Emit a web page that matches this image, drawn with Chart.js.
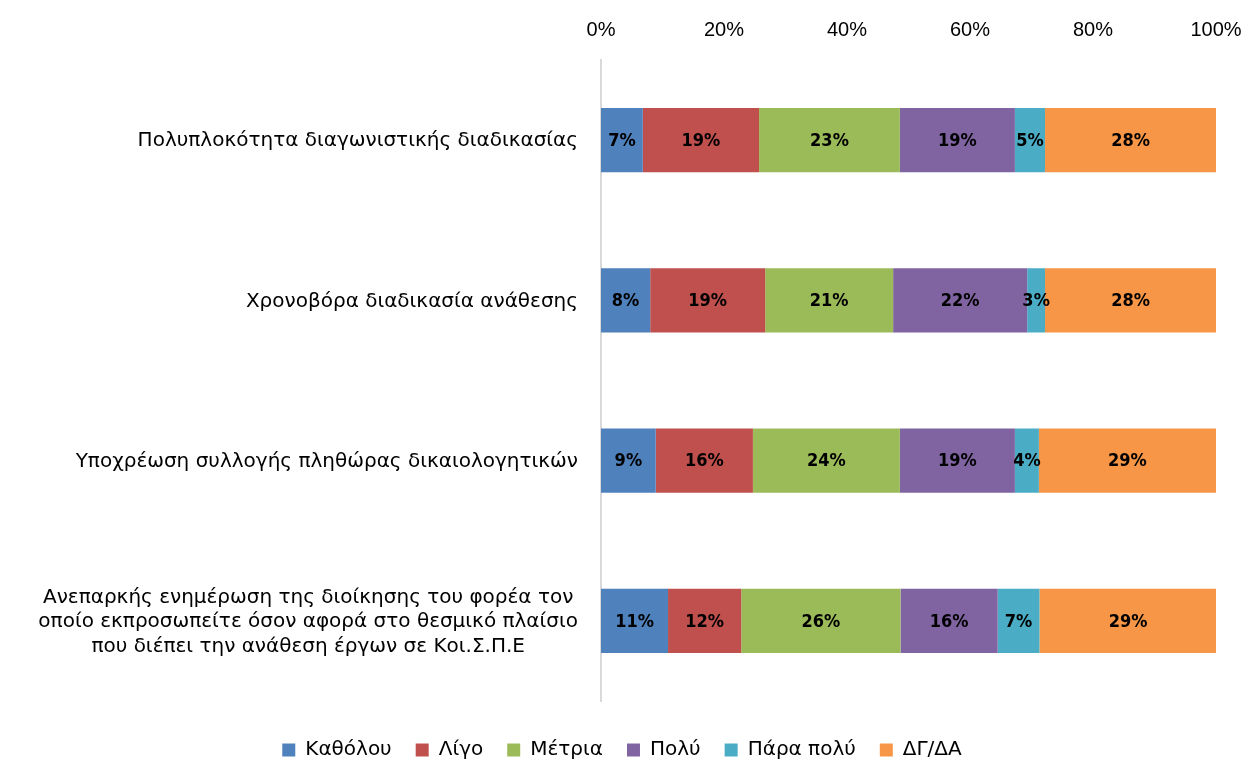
<!DOCTYPE html>
<html>
<head>
<meta charset="utf-8">
<script src="https://cdn.jsdelivr.net/npm/chart.js@4"></script>
<style>
  html, body { margin: 0; padding: 0; background: #fff; }
  #wrap { width: 1244px; height: 765px; }
</style>
</head>
<body>
<div id="wrap"><canvas id="chart" width="1244" height="765"></canvas></div>
<script>
// categories (top to bottom)
const categories = [
    "Πολυπλοκότητα διαγωνιστικής διαδικασίας",
    "Χρονοβόρα διαδικασία ανάθεσης",
    "Υποχρέωση συλλογής πληθώρας δικαιολογητικών",
    ["Ανεπαρκής ενημέρωση της διοίκησης του φορέα τον",
     "οποίο εκπροσωπείτε όσον αφορά στο θεσμικό πλαίσιο",
     "που διέπει την ανάθεση έργων σε Κοι.Σ.Π.Ε"]
];

// series values (percent)
const katholou  = [6.8, 8.0, 8.9, 10.9];
const ligo      = [18.9, 18.7, 15.8, 11.9];
const metria    = [22.9, 20.8, 23.9, 25.9];
const poly      = [18.7, 21.8, 18.7, 15.8];
const parapoly  = [4.9, 2.9, 3.9, 6.8];
const dgda      = [27.8, 27.8, 28.8, 28.8];

const xTicks = [0, 20, 40, 60, 80, 100];

const seriesNames = ["Καθόλου", "Λίγο", "Μέτρια", "Πολύ", "Πάρα πολύ", "ΔΓ/ΔΑ"];
const seriesData = [katholou, ligo, metria, poly, parapoly, dgda];
const colors = ["#4f81bd", "#c0504d", "#9bbb59", "#8064a2", "#4bacc6", "#f79646"];

const labelFont = "20px 'DejaVu Sans', sans-serif";

// values inside the bars
const barLabels = {
    id: "barLabels",
    afterDatasetsDraw(chart) {
        const ctx = chart.ctx;
        ctx.save();
        ctx.font = "bold 18px 'DejaVu Sans Condensed', 'DejaVu Sans', sans-serif";
        ctx.fillStyle = "#000";
        ctx.textAlign = "center";
        ctx.textBaseline = "middle";
        chart.data.datasets.forEach((ds, i) => {
            const meta = chart.getDatasetMeta(i);
            meta.data.forEach((bar, j) => {
                const cx = (bar.x + bar.base) / 2;
                ctx.fillText(Math.round(ds.data[j]) + "%", cx, bar.y + 1);
            });
        });
        ctx.restore();
    }
};

// category labels: right aligned block, lines centered inside it (like Excel)
const catLabels = {
    id: "catLabels",
    afterDraw(chart) {
        const ctx = chart.ctx;
        const y = chart.scales.y;
        const right = chart.chartArea.left - 23;
        const lineH = 24.5;
        ctx.save();
        ctx.font = labelFont;
        ctx.fillStyle = "#000";
        ctx.textAlign = "center";
        ctx.textBaseline = "middle";
        chart.data.labels.forEach((lab, i) => {
            const lines = Array.isArray(lab) ? lab : [lab];
            const w = Math.max(...lines.map(l => ctx.measureText(l).width));
            const cx = right - w / 2;
            const cy = y.getPixelForTick(i) + 1;
            lines.forEach((l, k) => {
                ctx.fillText(l, cx, cy + (k - (lines.length - 1) / 2) * lineH);
            });
        });
        ctx.restore();
    }
};

new Chart(document.getElementById("chart"), {
    type: "bar",
    data: {
        labels: categories,
        datasets: seriesNames.map((name, i) => ({
            label: name,
            data: seriesData[i],
            backgroundColor: colors[i],
            borderWidth: 0,
            barPercentage: 0.8,
            categoryPercentage: 0.5
        }))
    },
    options: {
        indexAxis: "y",
        responsive: false,
        animation: false,
        layout: { padding: { left: 28, right: 28, top: 0, bottom: -5 } },
        plugins: {
            legend: {
                position: "bottom",
                title: { display: true, text: "", font: { size: 10, lineHeight: 1 }, padding: { top: 0, bottom: 5 } },
                labels: {
                    color: "#000",
                    boxWidth: 13,
                    boxHeight: 13,
                    padding: 24,
                    font: { family: "'DejaVu Sans', sans-serif", size: 20 }
                }
            },
            tooltip: { enabled: false }
        },
        scales: {
            x: {
                position: "top",
                stacked: true,
                min: 0,
                max: 100,
                grid: { display: false, drawTicks: true, tickLength: 18 },
                border: { display: false },
                afterBuildTicks: (scale) => { scale.ticks = xTicks.map(v => ({ value: v })); },
                afterFit: (scale) => { scale.height = 60; },
                ticks: {
                    color: "#000",
                    padding: 0,
                    font: { family: "'Liberation Sans', sans-serif", size: 20 },
                    callback: (v) => v + "%"
                }
            },
            y: {
                stacked: true,
                grid: { display: false, drawTicks: false },
                border: { display: true, color: "#d9d9d9", width: 2 },
                afterFit: (scale) => { scale.width = 573; },
                ticks: { display: false }
            }
        }
    },
    plugins: [barLabels, catLabels]
});
</script>
</body>
</html>
